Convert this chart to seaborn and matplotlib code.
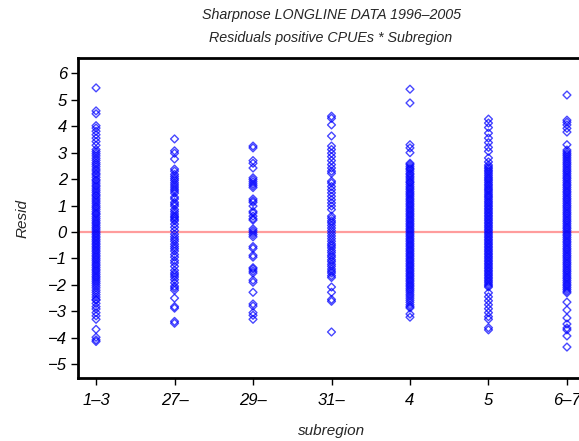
import numpy as np
import pandas as pd
import matplotlib
matplotlib.use("Agg")
import matplotlib.pyplot as plt
import seaborn as sns

categories = ["1–3", "27–", "29–", "31–", "4", "5", "6–7"]

resid_1_3 = [5.45, 4.58, 4.47, 4.02, 3.93, 3.81, 3.68, 3.55, 3.42, 3.28, 3.12, 3.04, 2.96,
             2.88, 2.79, 2.71, 2.62, 2.55, 2.47, 2.38, 2.31, 2.22, 2.16, 2.07, 1.98, 1.93,
             1.85, 1.77, 1.71, 1.63, 1.56, 1.49, 1.41, 1.36, 1.28, 1.21, 1.14, 1.07, 0.99,
             0.93, 0.86, 0.78, 0.71, 0.66, 0.58, 0.51, 0.44, 0.37, 0.31, 0.24, 0.17, 0.11,
             0.04, -0.03, -0.09, -0.16, -0.22, -0.29, -0.35, -0.42, -0.48, -0.55, -0.61,
             -0.68, -0.74, -0.81, -0.88, -0.94, -1.01, -1.07, -1.14, -1.21, -1.27, -1.34,
             -1.41, -1.47, -1.54, -1.61, -1.68, -1.74, -1.81, -1.88, -1.95, -2.03, -2.11,
             -2.2, -2.28, -2.37, -2.46, -2.55, -2.58, -2.7, -2.82, -2.91, -3.05, -3.17,
             -3.3, -3.68, -3.98, -4.08, -4.14]
resid_27 = [3.52, 3.07, 2.98, 2.76, 2.38, 2.3, 2.18, 2.1, 2.02, 1.95, 1.86, 1.78, 1.7,
            1.62, 1.55, 1.47, 1.32, 1.25, 1.12, 1.05, 0.98, 0.85, 0.77, 0.68, 0.6, 0.55,
            0.48, 0.42, 0.3, 0.18, 0.05, -0.08, -0.18, -0.27, -0.35, -0.46, -0.55, -0.63,
            -0.72, -0.85, -0.95, -1.08, -1.17, -1.3, -1.45, -1.55, -1.62, -1.7, -1.8,
            -1.92, -2.05, -2.12, -2.2, -2.5, -2.82, -2.88, -3.38, -3.45]
resid_29 = [3.25, 3.18, 2.7, 2.6, 2.42, 2.05, 1.98, 1.9, 1.82, 1.75, 1.68, 1.25, 1.18,
            1.12, 0.98, 0.78, 0.72, 0.6, 0.5, 0.45, 0.12, 0.05, -0.02, -0.1, -0.18, -0.55,
            -0.62, -0.88, -0.95, -1.35, -1.4, -1.48, -1.55, -1.82, -1.9, -2.28, -2.72,
            -2.8, -3.05, -3.15, -3.3]
resid_31 = [4.38, 4.3, 4.05, 3.63, 3.25, 3.12, 2.98, 2.85, 2.7, 2.55, 2.42, 2.3, 2.22,
            1.92, 1.85, 1.72, 1.6, 1.48, 1.35, 1.22, 1.1, 0.98, 0.85, 0.6, 0.52, 0.42,
            0.35, 0.25, 0.15, 0.05, -0.05, -0.15, -0.25, -0.35, -0.45, -0.52, -0.6, -0.7,
            -0.78, -0.88, -0.95, -1.05, -1.12, -1.22, -1.3, -1.4, -1.48, -1.55, -1.65,
            -1.72, -2.08, -2.28, -2.55, -2.62, -3.78]
resid_4 = [5.4, 4.88, 3.3, 3.18, 3.0, 2.6, 2.55, 2.48, 2.41, 2.37, 2.3, 2.22, 2.17, 2.1,
           2.04, 1.97, 1.9, 1.86, 1.79, 1.72, 1.66, 1.6, 1.53, 1.47, 1.41, 1.35, 1.28,
           1.22, 1.16, 1.09, 1.03, 0.97, 0.9, 0.84, 0.78, 0.71, 0.65, 0.59, 0.52, 0.46,
           0.4, 0.33, 0.27, 0.21, 0.14, 0.08, 0.02, -0.05, -0.11, -0.17, -0.24, -0.3,
           -0.36, -0.43, -0.49, -0.55, -0.62, -0.68, -0.74, -0.81, -0.87, -0.93, -1.0,
           -1.06, -1.12, -1.19, -1.25, -1.31, -1.38, -1.44, -1.5, -1.57, -1.63, -1.69,
           -1.76, -1.82, -1.88, -1.95, -2.01, -2.07, -2.14, -2.2, -2.27, -2.35, -2.42,
           -2.5, -2.58, -2.66, -2.75, -2.82, -2.87, -3.1, -3.22]
resid_5 = [4.27, 4.12, 3.95, 3.74, 3.55, 3.38, 3.2, 3.05, 2.8, 2.65, 2.53, 2.46, 2.4,
           2.33, 2.27, 2.2, 2.13, 2.06, 2.0, 1.94, 1.87, 1.8, 1.74, 1.67, 1.61, 1.55,
           1.48, 1.41, 1.35, 1.29, 1.22, 1.15, 1.09, 1.02, 0.96, 0.89, 0.83, 0.76, 0.7,
           0.63, 0.57, 0.5, 0.44, 0.37, 0.31, 0.24, 0.18, 0.11, 0.05, -0.02, -0.08,
           -0.15, -0.21, -0.28, -0.34, -0.41, -0.47, -0.54, -0.6, -0.67, -0.73, -0.8,
           -0.86, -0.93, -0.99, -1.06, -1.12, -1.19, -1.25, -1.32, -1.38, -1.45, -1.51,
           -1.58, -1.64, -1.71, -1.77, -1.84, -1.9, -1.97, -2.03, -2.08, -2.3, -2.45,
           -2.6, -2.75, -2.9, -3.05, -3.2, -3.3, -3.62, -3.7]
resid_6 = [5.18, 4.23, 4.15, 4.05, 3.92, 3.78, 3.3, 3.1, 3.03, 2.96, 2.9, 2.83, 2.76,
           2.69, 2.62, 2.56, 2.49, 2.42, 2.35, 2.29, 2.22, 2.15, 2.08, 2.02, 1.95, 1.88,
           1.81, 1.75, 1.68, 1.61, 1.54, 1.48, 1.41, 1.34, 1.27, 1.21, 1.14, 1.07, 1.0,
           0.94, 0.87, 0.8, 0.73, 0.67, 0.6, 0.53, 0.46, 0.4, 0.33, 0.26, 0.19, 0.13,
           0.06, -0.01, -0.08, -0.14, -0.21, -0.28, -0.35, -0.41, -0.48, -0.55, -0.62,
           -0.68, -0.75, -0.82, -0.89, -0.95, -1.02, -1.09, -1.16, -1.22, -1.29, -1.36,
           -1.43, -1.49, -1.56, -1.63, -1.7, -1.76, -1.83, -1.9, -1.97, -2.03, -2.1,
           -2.17, -2.24, -2.3, -2.65, -2.95, -3.25, -3.48, -3.63, -3.7, -3.93, -4.35]

series = [resid_1_3, resid_27, resid_29, resid_31, resid_4, resid_5, resid_6]
df = pd.DataFrame({
    "subregion": np.concatenate([[c] * len(v) for c, v in zip(categories, series)]),
    "Resid": np.concatenate(series),
})

sns.set_theme(style="ticks")
plt.rcParams["font.family"] = ["Liberation Sans", "DejaVu Sans"]
plt.rcParams["font.style"] = "italic"

fig = plt.figure(figsize=(5.79, 4.41), dpi=100)
ax = fig.add_axes([78 / 579, 63 / 441, (585 - 78) / 579, 320 / 441])

ax.axhline(0, color="#ff9c9c", lw=1.6, zorder=0)
sns.stripplot(data=df, x="subregion", y="Resid", order=categories, jitter=False,
              marker="D", size=4, linewidth=0.9, ax=ax, zorder=2)
for coll in ax.collections:
    coll.set_facecolor("none")
    coll.set_edgecolor((0.0, 0.0, 1.0, 0.72))
    coll.set_linewidth(1.0)

ax.set_xlim(-0.23, 6.23)
ax.set_ylim(-5.52, 6.58)
ax.set_yticks(range(-5, 7))
ax.set_yticklabels([str(v).replace("-", "−") for v in range(-5, 7)])
for side in ["left", "bottom", "top"]:
    ax.spines[side].set_visible(True)
    ax.spines[side].set_color("black")
    ax.spines[side].set_linewidth(2)
ax.spines["right"].set_visible(False)
ax.tick_params(axis="both", direction="out", length=5, width=1, color="black",
               labelsize=12, labelcolor="black", pad=6, bottom=True, left=True)
ax.tick_params(axis="y", pad=3)
for lab in ax.get_xticklabels() + ax.get_yticklabels():
    lab.set_fontstyle("italic")

ax.set_xlabel("subregion", fontsize=11, fontstyle="italic", labelpad=11)
ax.set_ylabel("Resid", fontsize=11, fontstyle="italic", labelpad=13)

fig.text(331 / 579, 1 - 15 / 441, "Sharpnose LONGLINE DATA 1996–2005", ha="center",
         va="center", fontsize=10.3, fontstyle="italic")
fig.text(331 / 579, 1 - 38 / 441, "Residuals positive CPUEs * Subregion", ha="center",
         va="center", fontsize=10.3, fontstyle="italic")

fig.savefig("out.png", dpi=100)
